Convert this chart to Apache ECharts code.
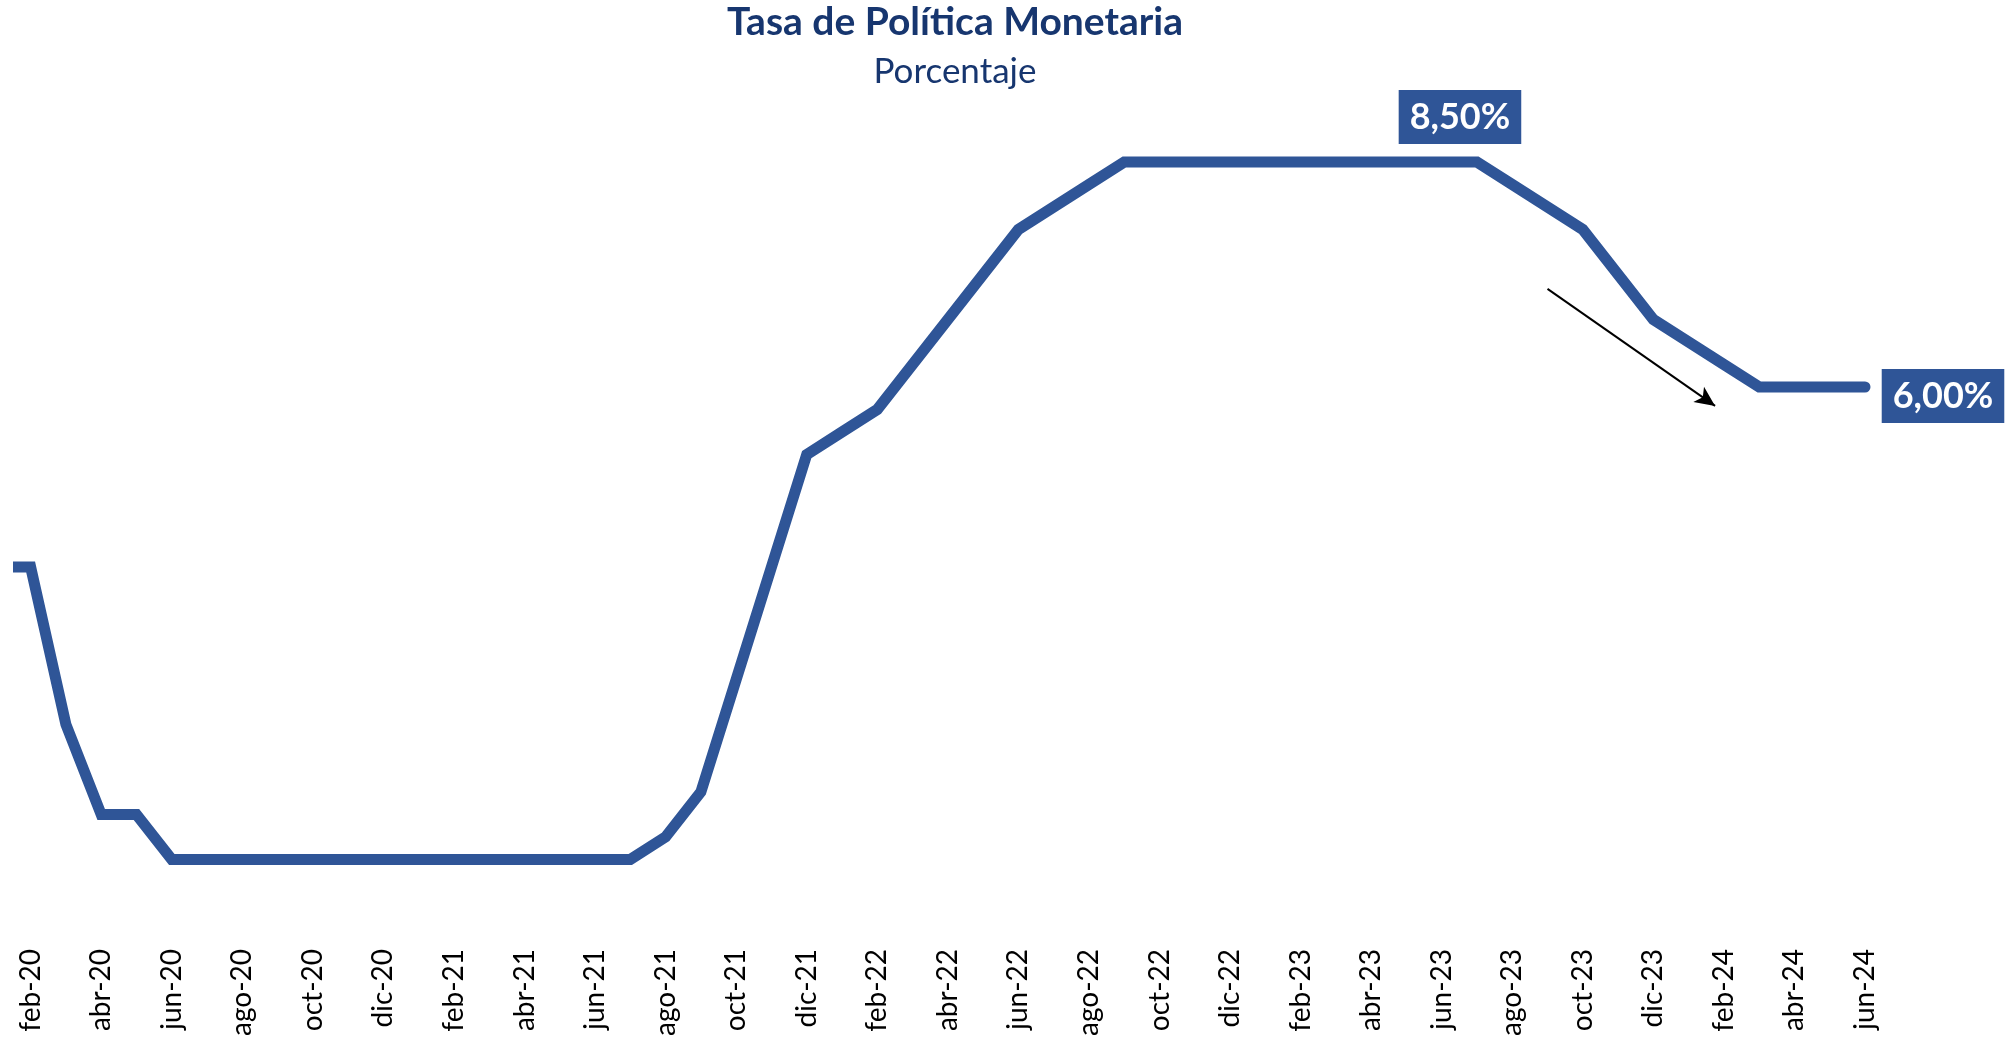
<!DOCTYPE html>
<html>
<head>
<meta charset="utf-8">
<title>Tasa de Política Monetaria</title>
<script src="https://cdn.jsdelivr.net/npm/echarts@6/dist/echarts.min.js"></script>
<style>
  html, body { margin: 0; padding: 0; background: #fff; }
  #chart { width: 2013px; height: 1039px; }
</style>
</head>
<body>
<div id="chart"></div>
<script>
// meses (ene-20 sólo sirve para el tramo inicial recortado)
const months = [
  'ene-20', 'feb-20', 'mar-20', 'abr-20', 'may-20', 'jun-20', 'jul-20', 'ago-20', 'sep-20', 'oct-20', 'nov-20', 'dic-20',
  'ene-21', 'feb-21', 'mar-21', 'abr-21', 'may-21', 'jun-21', 'jul-21', 'ago-21', 'sep-21', 'oct-21', 'nov-21', 'dic-21',
  'ene-22', 'feb-22', 'mar-22', 'abr-22', 'may-22', 'jun-22', 'jul-22', 'ago-22', 'sep-22', 'oct-22', 'nov-22', 'dic-22',
  'ene-23', 'feb-23', 'mar-23', 'abr-23', 'may-23', 'jun-23', 'jul-23', 'ago-23', 'sep-23', 'oct-23', 'nov-23', 'dic-23',
  'ene-24', 'feb-24', 'mar-24', 'abr-24', 'may-24', 'jun-24'
]

// tasa de política monetaria, %
const tpm = [
  4.00, 4.00, 2.25, 1.25, 1.25, 0.75, 0.75, 0.75, 0.75, 0.75, 0.75, 0.75,
  0.75, 0.75, 0.75, 0.75, 0.75, 0.75, 0.75, 1.00, 1.50, 2.75, 4.00, 5.25,
  5.50, 5.75, 6.25, 6.75, 7.25, 7.75, 8.00, 8.25, 8.50, 8.50, 8.50, 8.50,
  8.50, 8.50, 8.50, 8.50, 8.50, 8.50, 8.50, 8.25, 8.00, 7.75, 7.25, 6.75,
  6.50, 6.25, 6.00, 6.00, 6.00, 6.00
]

// etiquetas del eje: cada dos meses desde feb-20
const tickIdx = months.map((m, i) => i).filter(i => i % 2 === 1)

const peakIdx = tpm.lastIndexOf(Math.max(...tpm))   // jul-23, último mes en 8,50
const lastIdx = tpm.length - 1

const fmt = v => v.toFixed(2).replace('.', ',') + '%'

const blue = '#2F5597'
const navy = '#17366F'
const font = 'Lato'

const chart = echarts.init(document.getElementById('chart'))
chart.setOption({
  animation: false,
  title: {
    text: 'Tasa de Política Monetaria',
    subtext: 'Porcentaje',
    left: 950,
    top: -2,
    textAlign: 'center',
    itemGap: 12,
    textStyle: { fontFamily: font, fontSize: 39, fontWeight: 'bold', color: navy },
    subtextStyle: { fontFamily: font, fontSize: 35, color: navy }
  },
  grid: { left: 19, right: 148, top: 27, bottom: 111 },
  xAxis: {
    type: 'value',
    min: 0.67,
    max: lastIdx,
    axisLine: { show: false },
    axisTick: { show: false },
    splitLine: { show: false },
    axisLabel: {
      customValues: tickIdx,
      rotate: 90,
      margin: 22,
      fontFamily: font,
      fontSize: 28,
      color: '#000',
      formatter: v => months[Math.round(v)]
    }
  },
  yAxis: {
    type: 'value',
    min: 0,
    max: 10,
    show: false
  },
  series: [
    {
      type: 'line',
      data: tpm.map((v, i) => [i, v]),
      showSymbol: false,
      symbol: 'none',
      lineStyle: { color: blue, width: 11, cap: 'round', join: 'miter' },
      clip: true,
      markPoint: {
        symbol: 'circle',
        symbolSize: 0,
        label: {
          show: true,
          fontFamily: font,
          fontSize: 36,
          fontWeight: 'bold',
          color: '#fff',
          backgroundColor: blue,
          padding: [10, 11, 8, 11]
        },
        data: [
          {
            coord: [peakIdx, tpm[peakIdx]],
            label: { formatter: fmt(tpm[peakIdx]), offset: [-17, -45] }
          },
          {
            coord: [lastIdx, tpm[lastIdx]],
            label: { formatter: fmt(tpm[lastIdx]), offset: [78, 9] }
          }
        ]
      },
      markLine: {
        silent: true,
        symbol: ['none', 'arrow'],
        symbolSize: [14, 20],
        label: { show: false },
        lineStyle: { color: '#000', width: 2, type: 'solid' },
        data: [
          [{ coord: [44, 7.09] }, { coord: [48.75, 5.79] }]
        ]
      }
    }
  ]
})

window.addEventListener('resize', () => chart.resize())
</script>
</body>
</html>
